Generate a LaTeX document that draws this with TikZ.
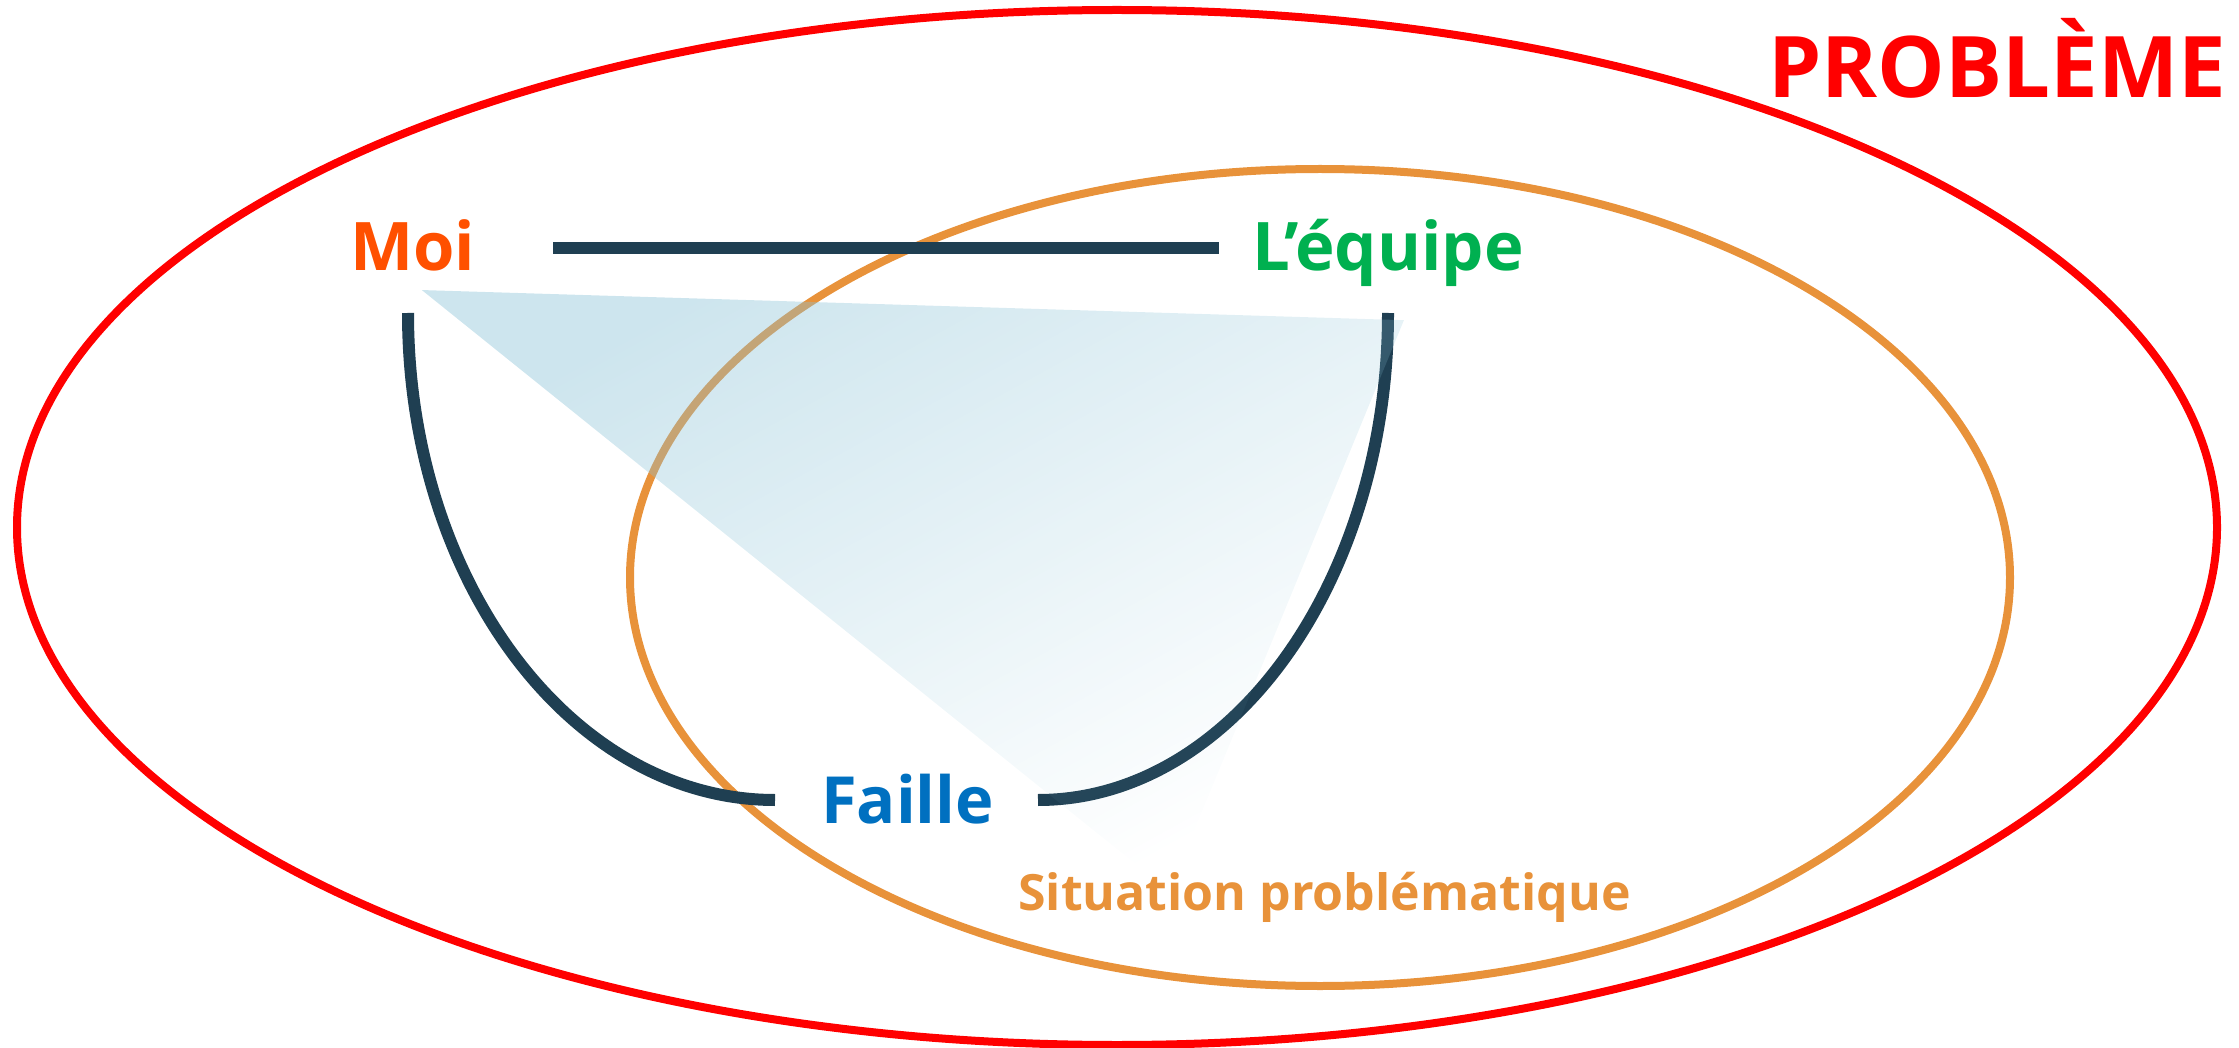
\documentclass[tikz,border=0pt]{standalone}
\usepackage{fontspec}
\setmainfont{Open Sans}
\usetikzlibrary{fadings}
\definecolor{probred}{RGB}{255,0,0}
\definecolor{sitorange}{RGB}{232,146,58}
\definecolor{navy}{RGB}{31,63,82}
\definecolor{moicol}{RGB}{255,80,0}
\definecolor{eqcol}{RGB}{0,176,80}
\definecolor{failcol}{RGB}{0,112,192}
\definecolor{triblue}{RGB}{140,195,215}
\tikzfading[name=trifade, top color=transparent!57, bottom color=transparent!100]
\begin{document}
\begin{tikzpicture}[x=1pt,y=-1pt,
  lbl/.style={inner sep=0pt, anchor=base west, font=\fontsize{67}{67}\selectfont\bfseries},
  navyline/.style={draw=navy, line width=12pt},
  ring/.style={line width=8pt}]
\useasboundingbox (0,0) rectangle (2239,1048);
% outer and inner ellipses
\draw[ring, probred] (1117,527.5) ellipse [x radius=1100, y radius=517.5];
\draw[ring, sitorange] (1320,577.5) ellipse [x radius=690, y radius=408.5];
% labels
\node[lbl, font=\fontsize{85}{85}\selectfont\bfseries, text=probred] (prob) at (1768,98) {PROBLÈME};
\node[lbl, text=moicol] (moi) at (350,271) {Moi};
\node[lbl, text=eqcol] (equipe) at (1252,271) {L’équipe};
\node[lbl, font=\fontsize{65}{65}\selectfont\bfseries, text=failcol] (faille) at (821,823) {Faille};
\node[lbl, font=\fontsize{50}{50}\selectfont\bfseries, text=sitorange] (sit) at (1018,910) {Situation problématique};
% connector coordinates
\coordinate (l1) at (553,248);
\coordinate (l2) at (1219,248);
\coordinate (c1) at (408,313);
\coordinate (c2) at (775,800);
\coordinate (c3) at (1038,800);
\coordinate (c4) at (1388,313);
\draw[navyline] (l1) -- (l2);
\draw[navyline] (c1) .. controls (408,582) and (572,800) .. (c2);
\draw[navyline] (c3) .. controls (1231,800) and (1388,582) .. (c4);
% translucent triangle
\coordinate (ta) at (421,288);
\coordinate (tb) at (1405,318);
\coordinate (tc) at (1170,890);
\fill[triblue, path fading=trifade, fading angle=42] (ta) -- (tb) -- (tc) -- cycle;
\end{tikzpicture}
\end{document}
